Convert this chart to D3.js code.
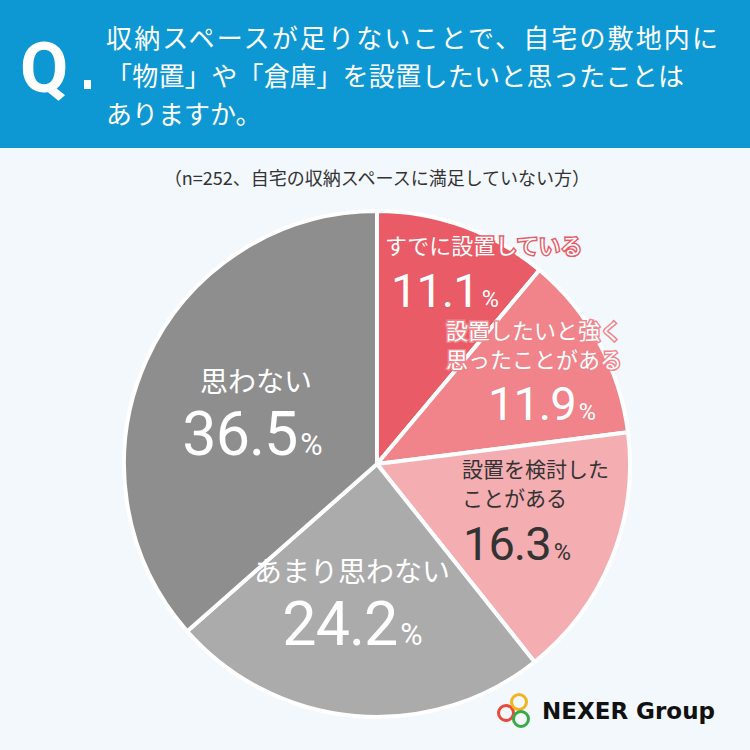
<!DOCTYPE html><html><head><meta charset="utf-8"><script src="https://cdn.jsdelivr.net/npm/d3@7"></script>
<style>body{margin:0}svg{display:block;font-family:"Noto Sans CJK JP",sans-serif}</style></head><body>
<script>
const categories=["すでに設置している","設置したいと強く思ったことがある","設置を検討したことがある","あまり思わない","思わない"];
const values=[11.1,11.9,16.3,24.2,36.5];
const colors=["#e95b66","#f1838b","#f4aeb2","#ababab","#8e8e8e"];
const W=750,H=750;
const svg=d3.select("body").append("svg").attr("width",W).attr("height",H);
svg.append("rect").attr("width",W).attr("height",H).attr("fill","#f3f8fc");
svg.append("rect").attr("width",W).attr("height",148).attr("fill","#0e98d3");
svg.append("text").attr("x",20).attr("y",92).attr("fill","#fff").attr("font-family","Roboto,sans-serif").attr("font-weight","bold").attr("font-size",70).text("Q");
svg.append("rect").attr("x",84).attr("y",80).attr("width",7).attr("height",9).attr("fill","#fff");
const qlines=["収納スペースが足りないことで、自宅の敷地内に","「物置」や「倉庫」を設置したいと思ったことは","ありますか。"];
qlines.forEach((t,i)=>{const tx=svg.append("text").attr("x",106).attr("y",48+i*38).attr("fill","#fff").attr("font-size",26).text(t);if(i==0)tx.attr("textLength",612);if(i==1)tx.attr("textLength",578);});
svg.append("text").attr("x",377).attr("y",185).attr("text-anchor","middle").attr("fill","#333").attr("font-size",18).text("（n=252、自宅の収納スペースに満足していない方）");
const cx=377,cy=464,r=253;
const pie=d3.pie().sort(null).value(d=>d)(values);
const arc=d3.arc().innerRadius(0).outerRadius(r);
const g=svg.append("g").attr("transform",`translate(${cx},${cy})`);
g.selectAll("path").data(pie).join("path").attr("d",arc).attr("fill",(d,i)=>colors[i]).attr("stroke","#fff").attr("stroke-width",4).attr("stroke-linejoin","round");
const labels=[
 {x:385,y:254,lines:["すでに設置している"],px:391,py:307,fs:22,ps:47,c:"#fff",sc:colors[0],a:"start"},
 {x:446,y:339,lines:["設置したいと強く","思ったことがある"],px:488,py:420,fs:22,ps:47,c:"#fff",sc:colors[1],a:"start"},
 {x:462,y:477,lines:["設置を検討した","ことがある"],px:463,py:560,fs:21,ps:47,c:"#333",sc:null,a:"start"},
 {x:352,y:582,lines:["あまり思わない"],px:352,py:645,fs:28,ps:61,c:"#fff",sc:null,a:"middle"},
 {x:256,y:392,lines:["思わない"],px:252,py:455,fs:28,ps:61,c:"#fff",sc:null,a:"middle"}];
labels.forEach((l,k)=>{
 const style=s=>{if(l.sc)s.attr("stroke",l.sc).attr("stroke-width",3).attr("paint-order","stroke");return s;};
 l.lines.forEach((s,i)=>style(svg.append("text").attr("x",l.x).attr("y",l.y+i*29).attr("fill",l.c).attr("font-size",l.fs).attr("text-anchor",l.a).text(s)));
 const p=style(svg.append("text").attr("x",l.px).attr("y",l.py).attr("fill",l.c).attr("text-anchor",l.a).attr("font-family","Roboto,sans-serif").attr("letter-spacing",-1));
 p.append("tspan").attr("font-size",l.ps).text(values[k].toFixed(1));
 p.append("tspan").attr("font-size",l.ps*0.5).attr("dx",3).text("%");
});
const lg=svg.append("g").attr("transform","translate(500,695)");
[[-2,18,"#e84b3c"],[11,7,"#f2b51f"],[13,24,"#3aaa48"]].forEach(([x,y,c])=>lg.append("circle").attr("cx",x+8).attr("cy",y).attr("r",7.5).attr("fill","none").attr("stroke",c).attr("stroke-width",3));
lg.append("text").attr("x",42).attr("y",24).attr("font-family","'DejaVu Sans',sans-serif").attr("font-weight","bold").attr("font-size",23).attr("fill","#111").text("NEXER Group");
</script></body></html>
